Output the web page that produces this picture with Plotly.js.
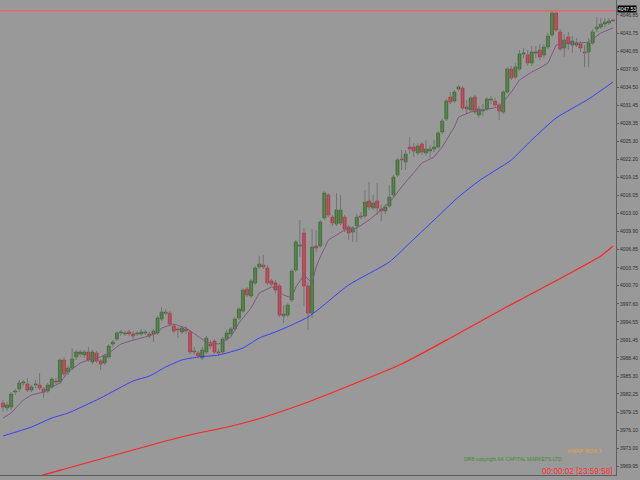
<!DOCTYPE html>
<html>
<head>
<meta charset="utf-8">
<script src="https://cdn.plot.ly/plotly-3.0.1.min.js"></script>
<style>html,body{margin:0;padding:0;background:#999999;}#chart{width:640px;height:480px;}</style>
</head>
<body>
<div id="chart"></div>
<script>
// ---- candle data ----
const openP = [3980.71,3979.86,3980.03,3982.58,3983.09,3984.12,3983.95,3982.92,3983.78,3983.78,3983.09,3982.75,3983.43,3984.46,3984.29,3988.04,3985.99,3986.67,3988.55,3989.06,3988.89,3989.40,3987.70,3989.23,3987.87,3987.53,3988.55,3990.76,3991.61,3992.64,3992.47,3992.81,3992.47,3992.47,3992.47,3992.64,3992.47,3992.47,3992.64,3995.02,3996.03,3996.03,3993.83,3993.32,3992.81,3993.32,3992.81,3989.40,3989.23,3988.38,3989.40,3990.76,3991.27,3989.40,3989.40,3991.61,3992.47,3993.32,3995.19,3996.37,4000.13,3998.94,4001.16,4003.88,4004.22,4003.71,4001.50,4001.16,4000.65,3995.53,3995.70,3998.26,4003.37,4007.46,4009.68,4000.65,3996.03,4007.46,4007.46,4012.23,4016.15,4012.40,4011.21,4011.38,4012.40,4010.70,4009.85,4010.87,4012.57,4012.57,4015.13,4013.94,4015.13,4013.77,4013.43,4014.28,4016.15,4019.56,4022.29,4021.78,4024.33,4024.33,4023.31,4024.84,4023.31,4023.65,4023.99,4024.33,4026.89,4029.10,4032.85,4032.17,4034.21,4034.38,4031.15,4030.64,4032.85,4029.78,4030.47,4030.81,4032.34,4032.17,4031.49,4030.30,4033.70,4037.62,4036.26,4037.62,4040.18,4040.01,4038.64,4040.35,4040.86,4040.01,4041.37,4043.42,4047.16,4043.93,4041.20,4043.08,4041.71,4041.71,4041.88,4040.52,4040.52,4042.05,4044.44,4044.78,4045.29,4045.46,4045.97];
const highP = [3981.22,3980.88,3982.58,3983.09,3984.63,3984.63,3984.97,3983.78,3984.63,3985.82,3983.43,3984.12,3985.14,3984.97,3988.38,3988.55,3987.18,3990.08,3989.74,3989.74,3989.74,3990.25,3989.74,3989.57,3988.21,3989.06,3990.76,3991.44,3992.98,3993.15,3992.98,3993.15,3992.98,3992.98,3993.32,3993.15,3992.81,3993.32,3995.53,3997.07,3996.73,3996.37,3994.17,3993.66,3993.83,3993.83,3993.15,3990.25,3989.57,3990.25,3992.13,3991.44,3991.61,3989.91,3991.95,3993.15,3993.66,3995.36,3997.07,4000.30,4000.47,4001.84,4004.05,4005.76,4005.93,4004.22,4001.84,4001.67,4000.99,3997.41,3997.75,4003.54,4008.48,4011.89,4010.53,4001.33,4010.36,4010.19,4011.89,4016.83,4016.49,4012.74,4016.49,4016.15,4012.74,4011.04,4010.87,4012.91,4013.26,4017.00,4018.37,4016.15,4018.20,4014.45,4014.62,4017.86,4019.56,4022.46,4023.82,4023.82,4026.03,4025.01,4025.01,4025.18,4025.52,4024.67,4025.52,4027.06,4029.10,4032.51,4033.70,4034.04,4034.90,4034.73,4032.34,4033.02,4033.19,4031.32,4031.66,4032.85,4033.02,4032.68,4031.83,4034.04,4037.96,4038.13,4038.64,4040.86,4041.20,4040.86,4041.54,4041.54,4041.88,4041.88,4043.76,4047.50,4047.33,4044.44,4043.59,4043.93,4043.25,4042.90,4042.39,4041.71,4042.90,4044.44,4046.48,4046.31,4046.31,4046.31,4046.14];
const lowP = [3979.18,3979.35,3979.52,3982.07,3982.58,3983.61,3982.58,3982.58,3983.26,3982.92,3981.56,3982.41,3983.09,3983.95,3983.95,3985.31,3985.48,3986.33,3988.04,3988.55,3988.38,3987.70,3987.35,3987.53,3986.33,3987.18,3988.21,3990.25,3991.27,3992.13,3992.13,3992.13,3991.61,3992.13,3992.13,3992.30,3991.78,3991.10,3992.30,3994.68,3995.70,3993.83,3992.64,3991.78,3992.47,3992.47,3989.06,3988.89,3988.38,3988.04,3989.06,3989.91,3989.06,3988.72,3989.06,3991.27,3992.13,3992.98,3994.85,3996.03,3998.77,3998.60,4000.82,4003.54,4003.54,4000.82,4000.65,3999.45,3995.36,3994.34,3995.36,3997.92,4003.03,4005.59,3997.24,3993.15,3995.19,4006.44,4007.12,4011.89,4012.40,4010.87,4010.87,4011.04,4009.85,4008.48,4008.14,4008.14,4012.06,4012.23,4013.60,4013.60,4012.74,4011.72,4012.91,4013.94,4015.81,4019.22,4020.41,4020.41,4023.14,4022.63,4022.97,4022.97,4022.80,4022.46,4023.48,4023.99,4026.55,4028.76,4031.66,4031.83,4033.87,4030.64,4029.95,4030.30,4029.95,4029.27,4029.61,4030.47,4031.66,4031.15,4028.93,4029.95,4033.36,4035.75,4035.92,4037.28,4039.50,4038.13,4038.13,4039.50,4039.16,4039.50,4041.03,4043.08,4043.93,4040.69,4039.67,4040.86,4040.35,4041.37,4040.52,4037.96,4037.96,4041.71,4043.93,4044.44,4044.78,4045.12,4045.63];
const closeP = [3980.03,3980.37,3982.24,3982.75,3984.12,3984.29,3982.92,3983.43,3983.95,3983.26,3982.58,3983.78,3984.80,3984.29,3988.04,3985.65,3986.67,3988.21,3989.40,3989.40,3989.40,3988.04,3989.40,3987.87,3987.35,3988.72,3990.42,3991.10,3992.64,3992.81,3992.64,3992.47,3992.13,3992.64,3992.81,3992.81,3992.13,3992.98,3995.19,3996.20,3996.20,3994.17,3992.98,3993.15,3993.49,3992.98,3989.40,3989.57,3988.72,3989.74,3991.78,3990.42,3989.40,3989.23,3991.61,3992.64,3993.32,3995.02,3996.73,3999.96,3999.11,4001.50,4003.71,4004.39,4003.88,4001.16,4000.99,3999.96,3995.70,3995.87,3997.41,4003.20,4008.14,4007.63,4000.65,3996.03,4007.29,4007.12,4011.55,4016.49,4012.74,4011.38,4013.60,4013.60,4010.36,4009.68,4010.53,4012.40,4012.40,4014.96,4014.11,4014.79,4013.94,4013.43,4014.11,4015.81,4019.22,4022.12,4022.12,4023.14,4023.99,4023.65,4024.50,4023.48,4023.99,4023.99,4024.33,4026.72,4028.76,4032.17,4032.00,4033.70,4034.56,4030.98,4030.81,4032.68,4030.30,4030.81,4030.64,4032.51,4032.51,4031.49,4030.47,4033.70,4037.62,4036.09,4037.96,4040.18,4040.35,4038.64,4040.52,4040.52,4039.67,4041.37,4043.25,4047.16,4044.27,4041.03,4042.56,4041.88,4042.39,4042.05,4041.20,4040.35,4042.05,4043.93,4044.78,4045.29,4045.63,4045.80,4045.80];

// ---- moving averages (at bar indices) ----
const maFastIdx = [0,2,5,7,10,12,14,16,19,21,24,26,29,32,35,38,39,42,45,48,50,53,56,58,61,63,66,67,69,71,72,74,76,77,78,80,84,87,90,93,96,98,101,103,106,108,111,112,115,119,122,125,127,130,132,134,136,139,142,144,147,150];
const maFastVal = [3978.15,3979.00,3981.22,3982.07,3982.58,3983.44,3984.12,3985.99,3987.52,3988.04,3988.55,3989.23,3990.76,3991.44,3991.96,3992.64,3993.49,3994.17,3993.49,3992.13,3991.10,3990.76,3991.96,3994.34,3996.90,3999.45,4000.48,4000.30,3999.11,3998.60,4000.48,4002.52,4001.16,4003.88,4005.59,4008.48,4010.19,4010.53,4011.89,4013.60,4015.64,4017.52,4019.90,4021.60,4022.63,4024.33,4027.74,4029.44,4030.30,4030.81,4031.15,4033.70,4035.75,4037.11,4037.79,4038.64,4041.71,4042.05,4042.05,4042.22,4043.76,4044.61];
const maMidIdx = [0,7,12,16,24,32,36,40,44,48,53,59,63,67,71,75,78,85,95,100,106,112,117,120,125,130,136,144,150];
const maMidVal = [3975.09,3976.62,3978.15,3979.00,3981.56,3984.46,3985.31,3986.84,3988.04,3988.55,3988.89,3990.08,3991.78,3992.81,3994.00,3995.36,3996.90,4000.82,4004.74,4007.97,4011.89,4015.81,4018.54,4019.90,4022.12,4025.52,4029.27,4032.51,4035.41];
const maSlowIdx = [0,5,9,16,24,32,40,48,53,61,73,85,98,110,122,134,147,150];
const maSlowVal = [3966.23,3967.25,3968.27,3969.63,3971.17,3972.70,3974.23,3975.60,3976.28,3977.64,3980.37,3983.61,3987.35,3991.78,3996.39,4000.82,4005.76,4007.46];

// ---- axis tick labels ----
const priceTicks = ['3969.95','3973.00','3976.10','3979.15','3982.25','3985.30','3988.40','3991.45','3994.55','3997.60','4000.70','4003.75','4006.85','4009.90','4013.00','4016.05','4019.15','4022.20','4025.30','4028.35','4031.45','4034.50','4037.60','4040.65','4043.75','4046.85'];
const bidPrice = 4047.53;
const bidLabel = '4047.53';
const vwapText = 'VWAP 4034.3';
const copyrightText = 'DRB copyright AK CAPITAL MARKETS LTD.';
const timerText = '00:00:02 [23:59:58]';

// ---- build traces ----
const n = openP.length;
const idx = openP.map((_, i) => i);
const wx = [], wy = [];
idx.forEach(i => { wx.push(i, i, null); wy.push(lowP[i], highP[i], null); });

const upX = [], upBase = [], upH = [], dnX = [], dnBase = [], dnH = [];
const minH = 0.17;
idx.forEach(i => {
  const o = openP[i], c = closeP[i];
  const b = Math.min(o, c), h = Math.max(Math.abs(c - o), minH);
  if (c >= o) { upX.push(i); upBase.push(b); upH.push(h); }
  else { dnX.push(i); dnBase.push(b); dnH.push(h); }
});

const traces = [
  {type:'scatter', mode:'lines', x:wx, y:wy, line:{color:'#747474', width:1}, hoverinfo:'skip', connectgaps:false},
  {type:'bar', x:upX, base:upBase, y:upH, width:0.74, marker:{color:'#3d8a2d', line:{color:'#2c6521', width:0.6}}, hoverinfo:'skip'},
  {type:'bar', x:dnX, base:dnBase, y:dnH, width:0.74, marker:{color:'#e2364a', line:{color:'#b02a3a', width:0.6}}, hoverinfo:'skip'},
  {type:'scatter', mode:'lines', x:maSlowIdx, y:maSlowVal, line:{color:'#ff2424', width:1.2, shape:'spline', smoothing:0.6}, hoverinfo:'skip'},
  {type:'scatter', mode:'lines', x:maMidIdx, y:maMidVal, line:{color:'#3c3cff', width:1, shape:'spline', smoothing:0.6}, hoverinfo:'skip'},
  {type:'scatter', mode:'lines', x:maFastIdx, y:maFastVal, line:{color:'#7c5c7e', width:1}, hoverinfo:'skip'}
];

const yTop = 4049.38, yBot = 3968.44;
const layout = {
  width:640, height:480,
  margin:{l:0, r:24, t:0, b:5, pad:0},
  paper_bgcolor:'#999999', plot_bgcolor:'#999999',
  showlegend:false, barmode:'overlay',
  xaxis:{range:[-0.74, n - 0.27], showgrid:false, zeroline:false, showticklabels:false, ticks:'', showline:true, linecolor:'#5e5e5e', linewidth:1, fixedrange:true},
  yaxis:{side:'right', range:[yBot, yTop], tickvals:priceTicks.map(Number), ticktext:priceTicks,
         showgrid:false, zeroline:false, showline:true, linecolor:'#5e5e5e', linewidth:1,
         ticks:'outside', ticklen:2, tickcolor:'#5e5e5e',
         tickfont:{family:'Liberation Sans, Arial, sans-serif', size:5, color:'#2e2e2e'}, fixedrange:true},
  shapes:[
    {type:'line', xref:'paper', x0:0, x1:1, yref:'y', y0:bidPrice, y1:bidPrice, line:{color:'#ff5050', width:1}}
  ],
  annotations:[
    {xref:'paper', x:1, xanchor:'left', xshift:1, yref:'y', y:bidPrice, yanchor:'middle', yshift:2, text:bidLabel, showarrow:false,
     bgcolor:'#000000', font:{family:'Liberation Sans, Arial, sans-serif', size:5, color:'#ffffff'}, borderpad:0},
    {xref:'paper', x:0.979, xanchor:'right', yref:'paper', y:0.05, yanchor:'middle', text:vwapText, showarrow:false,
     font:{family:'Liberation Sans, Arial, sans-serif', size:5.5, color:'#e8a040'}},
    {xref:'paper', x:0.918, xanchor:'right', yref:'paper', y:0.034, yanchor:'middle', text:copyrightText, showarrow:false,
     font:{family:'Liberation Sans, Arial, sans-serif', size:5, color:'#3e8e2e'}},
    {xref:'paper', x:0.998, xanchor:'right', yref:'paper', y:0.008, yanchor:'middle', text:timerText, showarrow:false,
     font:{family:'Liberation Sans, Arial, sans-serif', size:8.2, color:'#ff3030'}}
  ]
};

Plotly.newPlot('chart', traces, layout, {staticPlot:true, displayModeBar:false});
</script>
</body>
</html>
